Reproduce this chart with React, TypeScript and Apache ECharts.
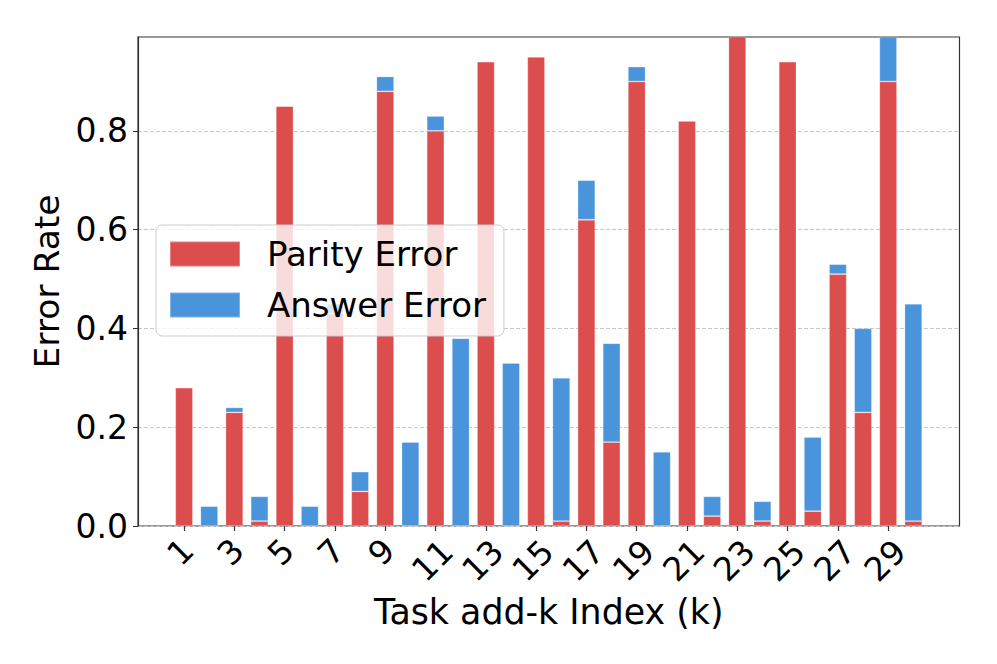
import React, { useEffect, useRef } from "react";
import * as echarts from "echarts";

const taskIndex = ["1","2","3","4","5","6","7","8","9","10","11","12","13","14","15","16","17","18","19","20","21","22","23","24","25","26","27","28","29","30"];
const parityError = [0.28,0,0.23,0.01,0.85,0,0.43,0.07,0.88,0,0.80,0,0.94,0,0.95,0.01,0.62,0.17,0.90,0,0.82,0.02,1.00,0.01,0.94,0.03,0.51,0.23,0.90,0.01];
const answerError = [0,0.04,0.01,0.05,0,0.04,0.02,0.04,0.03,0.17,0.03,0.38,0,0.33,0,0.29,0.08,0.20,0.03,0.15,0,0.04,0,0.04,0,0.15,0.02,0.17,0.10,0.44];
const yTickLabels = [0, 0.2, 0.4, 0.6, 0.8];

const FONT = "DejaVu Sans";

export default function App() {
  const ref = useRef<HTMLDivElement>(null);
  useEffect(() => {
    if (!ref.current) return;
    const chart = echarts.init(ref.current, null, { renderer: "svg" });
    const barStyle = (color: string) => ({
      color,
      borderColor: "rgba(255,255,255,0.3)",
      borderWidth: 0.8,
    });
    chart.setOption({
      animation: false,
      backgroundColor: "#ffffff",
      textStyle: { fontFamily: FONT },
      grid: [
        { left: 138, right: 37.5, top: 37, bottom: 138, show: true, borderColor: "#333", borderWidth: 1.2, backgroundColor: "transparent" },
        { left: 171.5, right: 71.1, top: 37, bottom: 138 },
      ],
      legend: {
        left: 156,
        top: 225,
        orient: "vertical",
        icon: "rect",
        itemWidth: 70,
        itemHeight: 25,
        itemGap: 17,
        padding: [12, 18, 14, 13],
        backgroundColor: "rgba(255,255,255,0.8)",
        borderColor: "#cccccc",
        borderWidth: 1,
        borderRadius: 6,
        textStyle: { fontSize: 34, fontFamily: FONT, color: "#000", padding: [0, 0, 0, 22] },
        data: ["Parity Error", "Answer Error"],
      },
      xAxis: [
        { type: "value", gridIndex: 0, min: 0, max: 1, show: false },
        {
          type: "category",
          gridIndex: 1,
          data: taskIndex,
          boundaryGap: true,
          name: "Task add-k Index (k)",
          nameLocation: "middle",
          nameGap: 58,
          nameTextStyle: { fontSize: 34.8, fontFamily: FONT, color: "#000" },
          axisLine: { show: false },
          axisTick: { show: true, length: 5, interval: 1, alignWithLabel: true, lineStyle: { color: "#333", width: 1.2 } },
          axisLabel: {
            interval: 1,
            rotate: 45,
            align: "right",
            verticalAlign: "top",
            margin: 8,
            fontSize: 33,
            fontFamily: FONT,
            color: "#000",
            formatter: (v: string) => (v.length === 1 ? `{s|${v}}` : `{d|${v}}`),
            rich: {
              s: { fontSize: 33, fontFamily: FONT, color: "#000", lineHeight: 20, padding: [0, 5, 0, 0] },
              d: { fontSize: 33, fontFamily: FONT, color: "#000", lineHeight: 33 },
            },
          },
          splitLine: { show: false },
        },
      ],
      yAxis: [
        {
          type: "value",
          gridIndex: 0,
          min: 0,
          max: 0.99,
          interval: 0.2,
          name: "Error Rate",
          nameLocation: "middle",
          nameGap: 70,
          nameTextStyle: { fontSize: 34.5, fontFamily: FONT, color: "#000" },
          axisLine: { show: true, onZero: false, lineStyle: { color: "#333", width: 1.2 } },
          axisTick: { show: true, length: 5, customValues: yTickLabels, lineStyle: { color: "#333" } },
          axisLabel: {
            customValues: yTickLabels,
            formatter: (v: number) => v.toFixed(1),
            margin: 10,
            fontSize: 33,
            fontFamily: FONT,
            color: "#000",
          },
          splitLine: { show: true, lineStyle: { type: [4, 2], color: "#c8c8c8", width: 1 } },
        },
        { type: "value", gridIndex: 1, min: 0, max: 0.99, show: false, splitLine: { show: false } },
      ],
      series: [
        {
          name: "Parity Error",
          type: "bar",
          stack: "err",
          xAxisIndex: 1,
          yAxisIndex: 1,
          barWidth: 17.6,
          itemStyle: barStyle("#DC4D4D"),
          data: parityError,
        },
        {
          name: "Answer Error",
          type: "bar",
          stack: "err",
          xAxisIndex: 1,
          yAxisIndex: 1,
          barWidth: 17.6,
          itemStyle: barStyle("#4A94DC"),
          data: answerError,
        },
      ],
    });
    return () => chart.dispose();
  }, []);
  return <div ref={ref} style={{ width: 997, height: 664, position: "fixed", left: 0, top: 0 }} />;
}
